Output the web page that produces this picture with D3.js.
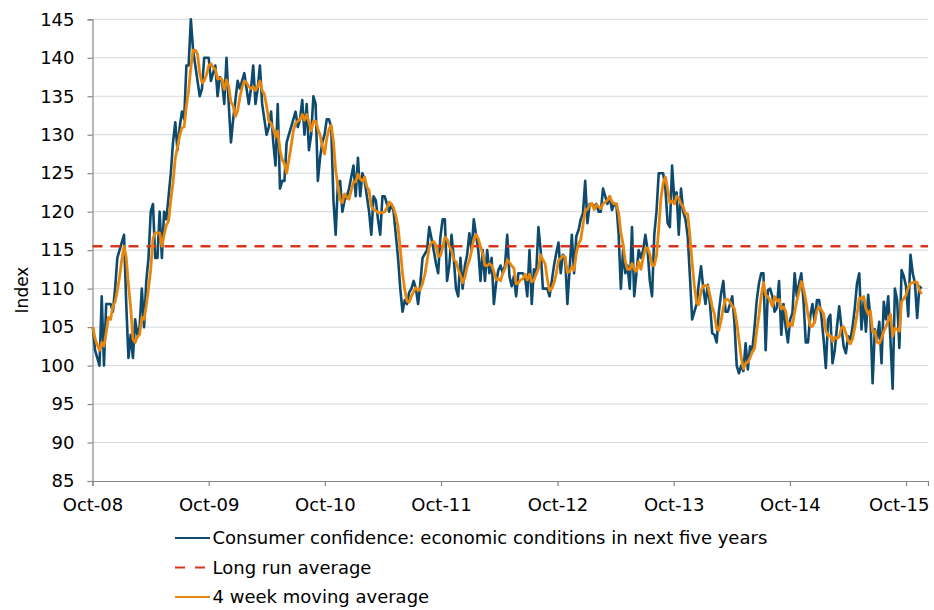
<!DOCTYPE html>
<html>
<head>
<meta charset="utf-8">
<script src="https://cdn.jsdelivr.net/npm/d3@7"></script>
<style>
  body { margin: 0; background: #fff; }
  svg { font-family: "DejaVu Sans", Verdana, sans-serif; }
</style>
</head>
<body>
<div id="chart"></div>
<script>
// weekly index readings, one array per year starting in October
const weeksOct08 = [105,102,101,100,109,100,108,108,108,107,
  110,114,115,116,117,108,101,104,101,106,
  104,105,110,105,111,114,120,121,114,114,
  120,114,120,119,122,125,129,131.6,128,131,
  133,132,139,139,145,141,139,137,135,136,
  140,140]
const weeksOct09 = [140,137,138,139,135,137.5,137,134,140,134,
  129,132,134.5,137,136,137,138,136,134,136,
  139,134,136,139,134,132,130,131,133,129,
  126,134,123,124,124,129,130,131,132,133,
  131,132,134.5,130,134,128,130,135,134,124,
  127,129]
const weeksOct10 = [130,132,132,131,121.5,117,123.7,124,120,121.5,
  122,123,124.5,126,122,127,122,125,124,122,
  120,117,122,121.5,119,117,122,122,121,120,
  121,120,117,114,110,107,108.5,108,109.5,110,
  111,110,108,110.7,114,114.5,115,118,116.5,115,
  113.3,112]
const weeksOct11 = [116.7,119,119,111,113,117,114,110,109,114,
  110,113,114.4,117.2,115,119,117,115,111,115,
  111,115,112,114,108,110.7,112.4,113,112,113,
  117,111.6,110.3,111.6,109,112,112,112,111.5,109,
  115,108,112.5,112,118,115,110,110,110,109,
  111,113]
const weeksOct12 = [114.6,116,112,114.4,114,108,112.5,117,112,116.8,
  117.6,119,119.8,124,118.5,121,120.9,120.7,121,120,
  120,123,122,121,122,120.2,121,121,117,110,
  115,112,113,110,118,109,112,115,114,115,
  117,115,111,109,117,120,125,125,125,123,
  118.5,118]
const weeksOct13 = [126,121.5,122.5,117,123,120,119,116.8,111.6,106,
  107,108,110.7,112.9,110,108,110.5,108,104.2,104,
  103,107,109.4,111,107,107,108,109,105.5,100,
  99,100,99.3,102.9,99.5,102.5,102,105,108.5,110.7,
  112,112,102,109.8,110,109,107,107.5,111,104,
  108,105]
const weeksOct14 = [103,106,106.8,112,109,110.7,112,108.3,103,103,
  106.4,108,105.6,108.5,108.5,106.4,103.4,99.7,106,106.6,
  100.3,102,105,107.7,105,102.5,101.6,103.8,103.4,105,
  107.5,110.7,112,104.7,108.5,104.4,109.2,106.4,97.7,104.7,
  103.4,105.7,100.3,108.3,106,109,103.4,97,110,108.5,
  102.3,112.4]
const weeksOct15 = [111.6,110.3,106.4,114.4,112,110.7,106.2,110.3,110]

const confidence = [].concat(weeksOct08, weeksOct09, weeksOct10, weeksOct11,
  weeksOct12, weeksOct13, weeksOct14, weeksOct15)
const longRunAverage = 115.5
const movingWindow = 4

const tickLabels = ["Oct-08","Oct-09","Oct-10","Oct-11","Oct-12","Oct-13","Oct-14","Oct-15"]
const yTicks = [85,90,95,100,105,110,115,120,125,130,135,140,145]
const legendLabels = ["Consumer confidence: economic conditions in next five years",
  "Long run average", "4 week moving average"]

const firstWeek = new Date(2008, 9, 2)
const axisStart = new Date(2008, 9, 1)
const axisEnd = new Date(2015, 11, 9)

const colors = { series: "#0d4a6d", average: "#d9341e", moving: "#e8860c" }

// layout
const margin = {top: 19.3, right: 6, bottom: 129, left: 92.5}
const width = 934 - margin.left - margin.right
const height = 610 - margin.top - margin.bottom

const svg = d3.select("#chart").append("svg")
    .attr("width", 934)
    .attr("height", 610)

const g = svg.append("g")
    .attr("transform", `translate(${margin.left},${margin.top})`)

const data = confidence.map((v, i) => ({ date: d3.timeDay.offset(firstWeek, 7 * i), value: v }))
const moving = data.map((d, i) => ({
    date: d.date,
    value: d3.mean(data.slice(Math.max(0, i - movingWindow + 1), i + 1), e => e.value)
}))

const xScale = d3.scaleTime()
    .domain([axisStart, axisEnd])
    .range([0, width])

const yScale = d3.scaleLinear()
    .domain([85, 145])
    .range([height, 0])

const parseTick = d3.timeParse("%b-%y")

// grid
g.append("g")
    .attr("class", "grid")
    .selectAll("line")
    .data(yTicks.filter(t => t > 85))
    .join("line")
    .attr("x1", 0)
    .attr("x2", width)
    .attr("y1", d => yScale(d))
    .attr("y2", d => yScale(d))
    .attr("stroke", "#d3d8dd")
    .attr("stroke-width", 1)

const yAxis = d3.axisLeft(yScale)
    .tickValues(yTicks)
    .tickSize(5)
    .tickPadding(13)

const xAxis = d3.axisBottom(xScale)
    .tickValues(tickLabels.map(parseTick))
    .tickFormat((d, i) => tickLabels[i])
    .tickSize(5)
    .tickPadding(12)

const yGroup = g.append("g").call(yAxis)
const xGroup = g.append("g").attr("transform", `translate(0,${height})`).call(xAxis)

for (const ax of [yGroup, xGroup]) {
    ax.select(".domain").attr("stroke", "#888").attr("stroke-width", 1.2)
    ax.selectAll(".tick line").attr("stroke", "#888").attr("stroke-width", 1.2)
    ax.selectAll(".tick text").attr("fill", "#000").style("font-size", "18px")
    ax.attr("font-family", null)
}

// last label is pulled in so it stays inside the picture
const lastTick = parseTick(tickLabels[tickLabels.length - 1])
xGroup.selectAll(".tick text")
    .filter(d => +d === +lastTick)
    .attr("text-anchor", "end")
    .attr("x", 929 - margin.left - xScale(lastTick))

g.append("text")
    .attr("transform", `translate(${22 - margin.left},${290 - margin.top}) rotate(-90)`)
    .attr("text-anchor", "middle")
    .attr("dy", "0.35em")
    .style("font-size", "17px")
    .text("Index")

const line = d3.line()
    .x(d => xScale(d.date))
    .y(d => yScale(d.value))

g.append("path")
    .datum(data)
    .attr("fill", "none")
    .attr("stroke", colors.series)
    .attr("stroke-width", 2.6)
    .attr("stroke-linejoin", "round")
    .attr("d", line)

g.append("line")
    .attr("x1", 0)
    .attr("x2", width)
    .attr("y1", yScale(longRunAverage))
    .attr("y2", yScale(longRunAverage))
    .attr("stroke", colors.average)
    .attr("stroke-width", 2.6)
    .attr("stroke-dasharray", "10,8")

g.append("path")
    .datum(moving)
    .attr("fill", "none")
    .attr("stroke", colors.moving)
    .attr("stroke-width", 2.8)
    .attr("stroke-linejoin", "round")
    .attr("d", line)

// legend
const legendKeys = [
    { label: legendLabels[0], color: colors.series, dash: null },
    { label: legendLabels[1], color: colors.average, dash: "10,10" },
    { label: legendLabels[2], color: colors.moving, dash: null }
]

const legend = svg.append("g")
    .attr("transform", "translate(175,538)")

const rows = legend.selectAll("g")
    .data(legendKeys)
    .join("g")
    .attr("transform", (d, i) => `translate(0,${i * 29.5})`)

rows.append("line")
    .attr("x1", 0)
    .attr("x2", 35)
    .attr("stroke", d => d.color)
    .attr("stroke-width", 2.2)
    .attr("stroke-dasharray", d => d.dash)

rows.append("text")
    .attr("x", 37.5)
    .attr("dy", "0.35em")
    .style("font-size", "18px")
    .text(d => d.label)
</script>
</body>
</html>
